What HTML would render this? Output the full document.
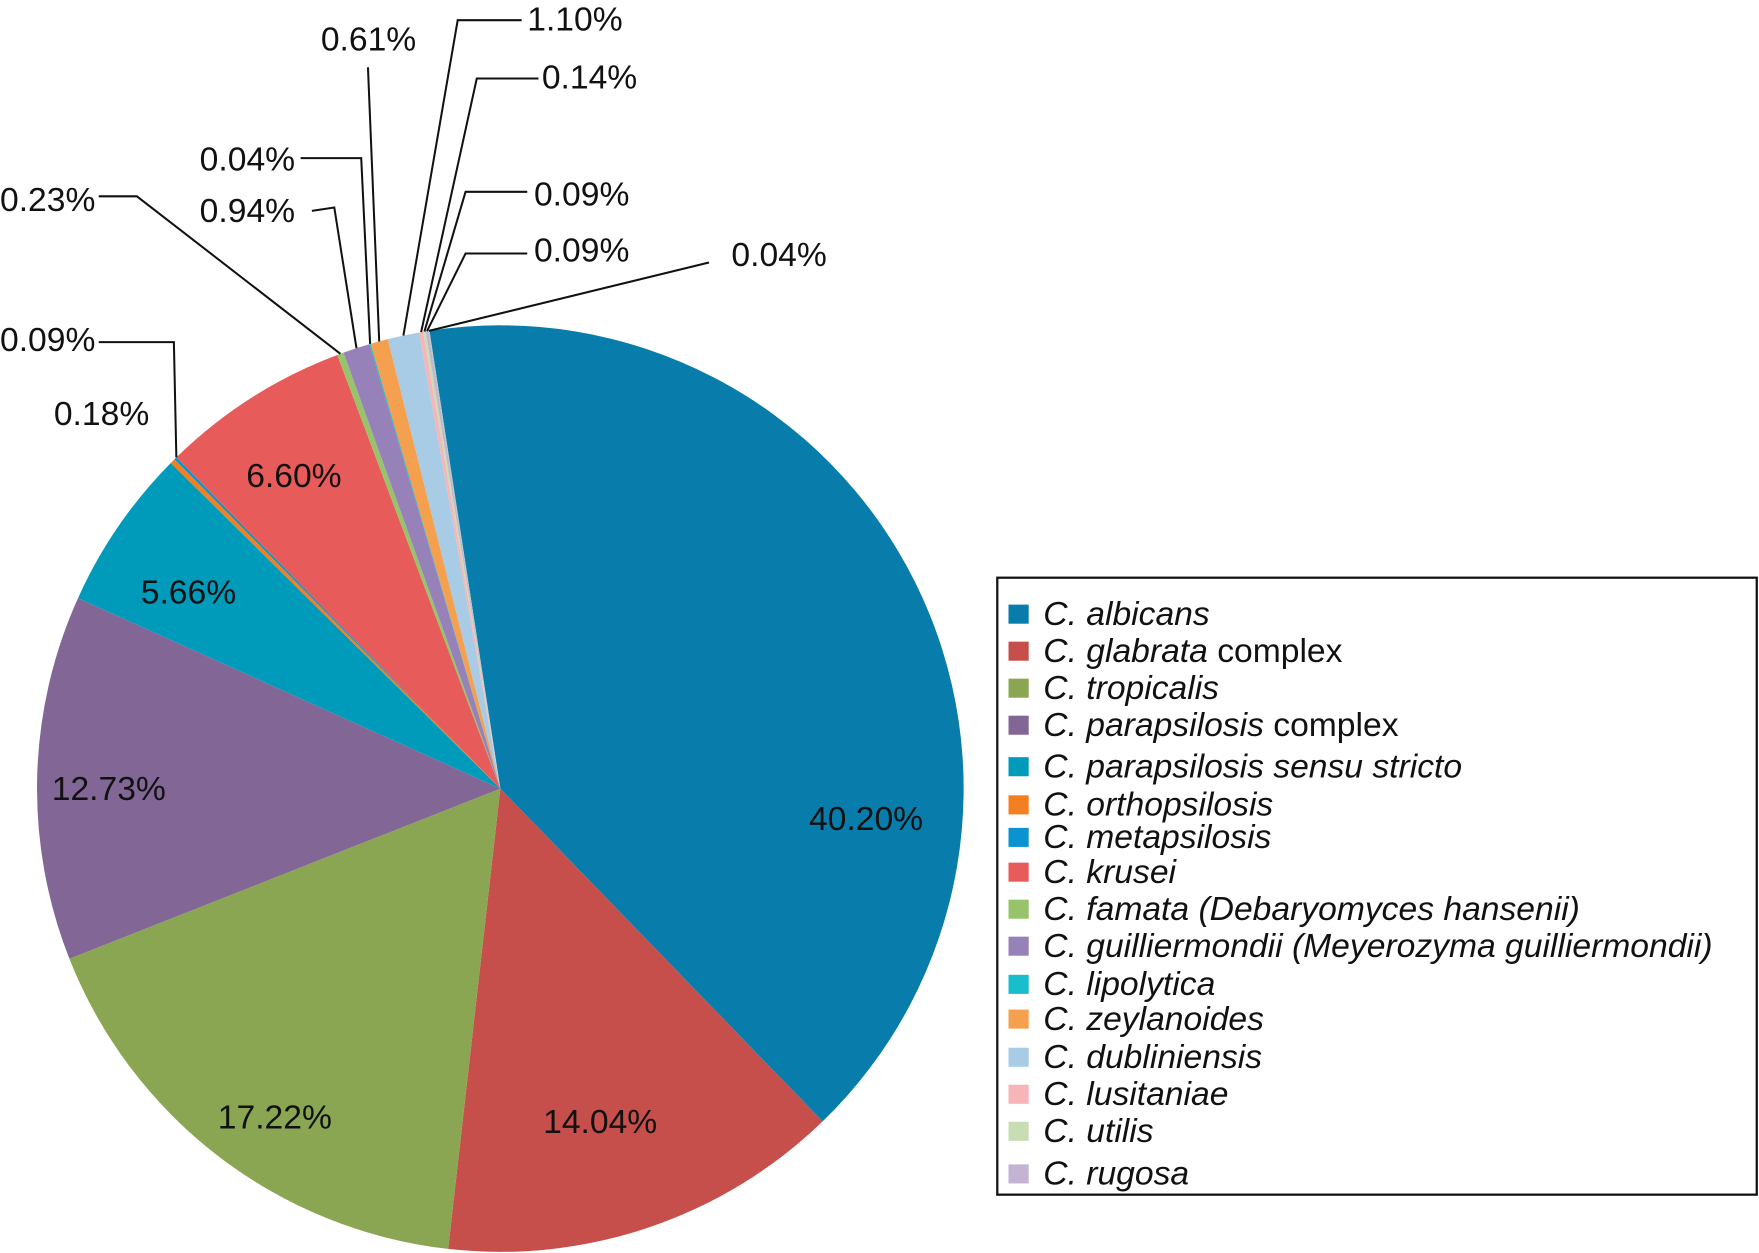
<!DOCTYPE html>
<html><head><meta charset="utf-8"><style>
html,body{margin:0;padding:0;background:#fff;}
svg{display:block;}
text{font-family:"Liberation Sans",sans-serif;fill:#111;}
</style></head><body>
<svg id="chart" width="1759" height="1253" viewBox="0 0 1568 1117" preserveAspectRatio="none" xmlns="http://www.w3.org/2000/svg">
<g id="slices"></g>
<g id="leaders"></g>
<g id="labels"></g>
<g id="legend">
<rect x="889" y="515" width="677" height="550" fill="#fff" stroke="#111" stroke-width="2"/>
</g>
</svg>
<script>
const categories = ["C. albicans","C. glabrata complex","C. tropicalis","C. parapsilosis complex","C. parapsilosis sensu stricto","C. orthopsilosis","C. metapsilosis","C. krusei","C. famata (Debaryomyces hansenii)","C. guilliermondii (Meyerozyma guilliermondii)","C. lipolytica","C. zeylanoides","C. dubliniensis","C. lusitaniae","C. utilis","C. rugosa","other"];
const values = [40.20,14.04,17.22,12.73,5.66,0.18,0.09,6.60,0.23,0.94,0.04,0.61,1.10,0.14,0.09,0.09,0.04];
const valueLabels = ["40.20%","14.04%","17.22%","12.73%","5.66%","0.18%","0.09%","6.60%","0.23%","0.94%","0.04%","0.61%","1.10%","0.14%","0.09%","0.09%","0.04%"];
const colors = ["#087DAB","#C64F4B","#8BA653","#826796","#009BBA","#F47F20","#0A93D0","#E75B5A","#97C46A","#9682B8","#19BDCB","#F5A04F","#A8CBE6","#F7B5BA","#C9DDB5","#C3B4D3","#B8C8C0"];
// label placement (layout, not data)
const inside = {0:[772,730],1:[535,1000],2:[245,996],3:[97,703],4:[168,528],7:[262,424]};
const outside = {
 5:{t:[48,379],pts:null},
 6:{t:[0,313],pts:[[88,305],[155,305]]},
 8:{t:[0,188],pts:[[88,175],[122,175]]},
 9:{t:[178,198],pts:[[278,188],[298,185]]},
 10:{t:[178,152],pts:[[268,141],[322,141]]},
 11:{t:[286,45],pts:[[328,60]]},
 12:{t:[470,27],pts:[[465,18],[408,18]]},
 13:{t:[483,79],pts:[[480,70],[425,70]]},
 14:{t:[476,183],pts:[[470,171],[415,171]]},
 15:{t:[476,233],pts:[[470,226],[415,226]]},
 16:{t:[652,237],pts:[[632,234]]}
};
const legendY = [557,590,623,656,693,727,756,787,820,853,887,918,952,985,1018,1056];

const NS="http://www.w3.org/2000/svg";
const cx=446, cy=703, R=413, startDeg=-8.8;
const total=values.reduce((a,b)=>a+b,0);
function pt(deg,r){const a=deg*Math.PI/180;return [cx+r*Math.sin(a), cy-r*Math.cos(a)];}
const gS=document.getElementById('slices'), gL=document.getElementById('leaders'), gT=document.getElementById('labels'), gLeg=document.getElementById('legend');
let acc=startDeg;
values.forEach((v,i)=>{
  const sweep=v/total*360, a0=acc, a1=acc+sweep; acc=a1;
  const p0=pt(a0,R), p1=pt(a1,R);
  const p=document.createElementNS(NS,'path');
  p.setAttribute('d',`M${cx},${cy} L${p0[0]},${p0[1]} A${R},${R} 0 ${sweep>180?1:0} 1 ${p1[0]},${p1[1]} Z`);
  p.setAttribute('fill',colors[i]);
  
  
  gS.appendChild(p);
  const mid=(a0+a1)/2;
  if(inside[i]){
    const t=document.createElementNS(NS,'text');
    t.setAttribute('x',inside[i][0]); t.setAttribute('y',inside[i][1]+10);
    t.setAttribute('text-anchor','middle'); t.setAttribute('font-size','30');
    t.textContent=valueLabels[i];
    
    
    gT.appendChild(t);
  } else if(outside[i]){
    const o=outside[i];
    const t=document.createElementNS(NS,'text');
    t.setAttribute('x',o.t[0]); t.setAttribute('y',o.t[1]);
    t.setAttribute('font-size','30');
    t.textContent=valueLabels[i];
    
    
    gT.appendChild(t);
    if(o.pts){
      const e=pt(i===6?a1:mid,R);
      const pl=document.createElementNS(NS,'polyline');
      pl.setAttribute('points',o.pts.concat([e]).map(q=>q.join(',')).join(' '));
      pl.setAttribute('fill','none'); pl.setAttribute('stroke','#111'); pl.setAttribute('stroke-width','1.8');
      
      
      gL.appendChild(pl);
    }
  }
});
legendY.forEach((y,i)=>{
  const r=document.createElementNS(NS,'rect');
  r.setAttribute('x',899); r.setAttribute('y',y-18); r.setAttribute('width',18); r.setAttribute('height',17);
  r.setAttribute('fill',colors[i]);
  
  
  gLeg.appendChild(r);
  const t=document.createElementNS(NS,'text');
  t.setAttribute('x',930); t.setAttribute('y',y); t.setAttribute('font-size','30');
  const name=categories[i];
  const m=name.match(/^(.*?)( complex)?$/);
  const ts=document.createElementNS(NS,'tspan'); ts.setAttribute('font-style','italic'); ts.textContent=m[1];
  t.appendChild(ts);
  if(m[2]){const ts2=document.createElementNS(NS,'tspan'); ts2.textContent=m[2]; t.appendChild(ts2);}
  
  
  gLeg.appendChild(t);
});
</script>
</body></html>
